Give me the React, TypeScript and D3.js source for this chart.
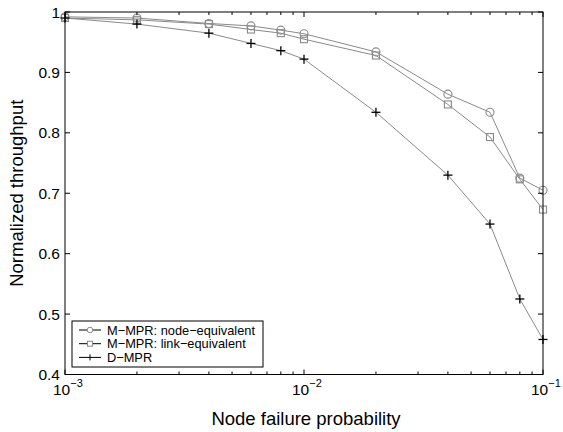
import React from "react";
import * as d3 from "d3";

// Node failure probabilities (log axis)
const failureProb = [0.001, 0.002, 0.004, 0.006, 0.008, 0.01, 0.02, 0.04, 0.06, 0.08, 0.1];

// Normalized throughput per scheme
const nodeEquivalent = [0.992, 0.99, 0.981, 0.977, 0.97, 0.964, 0.934, 0.864, 0.834, 0.725, 0.705];
const linkEquivalent = [0.99, 0.987, 0.98, 0.971, 0.965, 0.955, 0.928, 0.847, 0.793, 0.723, 0.673];
const dMpr = [0.99, 0.98, 0.965, 0.948, 0.936, 0.922, 0.834, 0.730, 0.649, 0.525, 0.458];

const seriesNames = ["M\u2212MPR: node\u2212equivalent", "M\u2212MPR: link\u2212equivalent", "D\u2212MPR"];
const yTicks = [0.4, 0.5, 0.6, 0.7, 0.8, 0.9, 1];
const yTickLabels = ["0.4", "0.5", "0.6", "0.7", "0.8", "0.9", "1"];
const xMajor = [0.001, 0.01, 0.1];
const xMajorExp = ["\u22123", "\u22122", "\u22121"];

const W = 563;
const H = 432;
const M = { left: 65, right: 543, top: 12, bottom: 374.5 };
const FONT = "'Liberation Sans', Arial, Helvetica, sans-serif";
const LINE = "#8a8a8a";

function Marker({ kind, x, y }: { kind: number; x: number; y: number }) {
  if (kind === 0) return <circle cx={x} cy={y} r={4} fill="none" stroke={LINE} strokeWidth={1.1} />;
  if (kind === 1)
    return <rect x={x - 3.5} y={y - 3.5} width={7} height={7} fill="none" stroke={LINE} strokeWidth={1.1} />;
  return (
    <g stroke="#000" strokeWidth={1.3}>
      <line x1={x - 4.5} x2={x + 4.5} y1={y} y2={y} />
      <line x1={x} x2={x} y1={y - 4.5} y2={y + 4.5} />
    </g>
  );
}

export default function App() {
  const x = d3.scaleLog().domain([0.001, 0.1]).range([M.left, M.right]);
  const y = d3.scaleLinear().domain([0.4, 1]).range([M.bottom, M.top]);
  const line = d3
    .line<number>()
    .x((_, i) => x(failureProb[i]))
    .y((d) => y(d));

  const series = [nodeEquivalent, linkEquivalent, dMpr];

  const minor: number[] = [];
  [0.001, 0.01].forEach((base) => {
    for (let k = 2; k <= 9; k++) minor.push(base * k);
  });

  const legend = { x: 72, y: 321, w: 191, h: 46 };

  return (
    <svg width={W} height={H} style={{ position: "absolute", left: 0, top: 0, background: "#fff" }}>
      <rect x={0} y={0} width={W} height={H} fill="#fff" />

      {/* data lines */}
      {series.map((s, k) => (
        <path key={k} d={line(s) || ""} fill="none" stroke={LINE} strokeWidth={1} />
      ))}
      {series.map((s, k) =>
        s.map((v, i) => <Marker key={`${k}-${i}`} kind={k} x={x(failureProb[i])} y={y(v)} />)
      )}

      {/* axes box */}
      <rect
        x={M.left}
        y={M.top}
        width={M.right - M.left}
        height={M.bottom - M.top}
        fill="none"
        stroke="#000"
        strokeWidth={1}
      />

      {/* y ticks */}
      {yTicks.map((t, i) => (
        <g key={t}>
          <line x1={M.left} x2={M.left + 5} y1={y(t)} y2={y(t)} stroke="#000" />
          <line x1={M.right} x2={M.right - 5} y1={y(t)} y2={y(t)} stroke="#000" />
          <text
            x={M.left - 5}
            y={y(t)}
            dy="0.36em"
            textAnchor="end"
            fontFamily={FONT}
            fontSize={15.5}
            fill="#000"
          >
            {yTickLabels[i]}
          </text>
        </g>
      ))}

      {/* x ticks */}
      {xMajor.map((t, i) => (
        <g key={t}>
          <line x1={x(t)} x2={x(t)} y1={M.bottom} y2={M.bottom - 5} stroke="#000" />
          <line x1={x(t)} x2={x(t)} y1={M.top} y2={M.top + 5} stroke="#000" />
          <text x={x(t) - 12} y={394.5} fontFamily={FONT} fontSize={15.5} fill="#000">
            10
            <tspan fontSize={11} dy={-8}>
              {xMajorExp[i]}
            </tspan>
          </text>
        </g>
      ))}
      {minor.map((t) => (
        <g key={t}>
          <line x1={x(t)} x2={x(t)} y1={M.bottom} y2={M.bottom - 3} stroke="#000" />
          <line x1={x(t)} x2={x(t)} y1={M.top} y2={M.top + 3} stroke="#000" />
        </g>
      ))}

      {/* axis titles */}
      <text x={(M.left + M.right) / 2 + 2} y={424.5} textAnchor="middle" fontFamily={FONT} fontSize={18.5} fill="#000">
        Node failure probability
      </text>
      <text
        transform={`translate(23,${(M.top + M.bottom) / 2}) rotate(-90)`}
        textAnchor="middle"
        fontFamily={FONT}
        fontSize={18.5}
        fill="#000"
      >
        Normalized throughput
      </text>

      {/* legend */}
      <rect x={legend.x} y={legend.y} width={legend.w} height={legend.h} fill="#fff" stroke="#000" strokeWidth={1} />
      {seriesNames.map((name, k) => {
        const ly = legend.y + 9 + k * 13.7;
        return (
          <g key={name}>
            <line x1={79} x2={101} y1={ly} y2={ly} stroke="#000" strokeWidth={1} />
            {k === 0 && <circle cx={90} cy={ly} r={2.8} fill="#fff" stroke={LINE} strokeWidth={1} />}
            {k === 1 && (
              <rect x={87.5} y={ly - 2.5} width={5} height={5} fill="#fff" stroke={LINE} strokeWidth={1} />
            )}
            {k === 2 && <line x1={90} x2={90} y1={ly - 3} y2={ly + 3} stroke="#000" strokeWidth={1} />}
            <text x={107} y={ly} dy="0.36em" fontFamily={FONT} fontSize={12.8} fill="#000">
              {name}
            </text>
          </g>
        );
      })}
    </svg>
  );
}
